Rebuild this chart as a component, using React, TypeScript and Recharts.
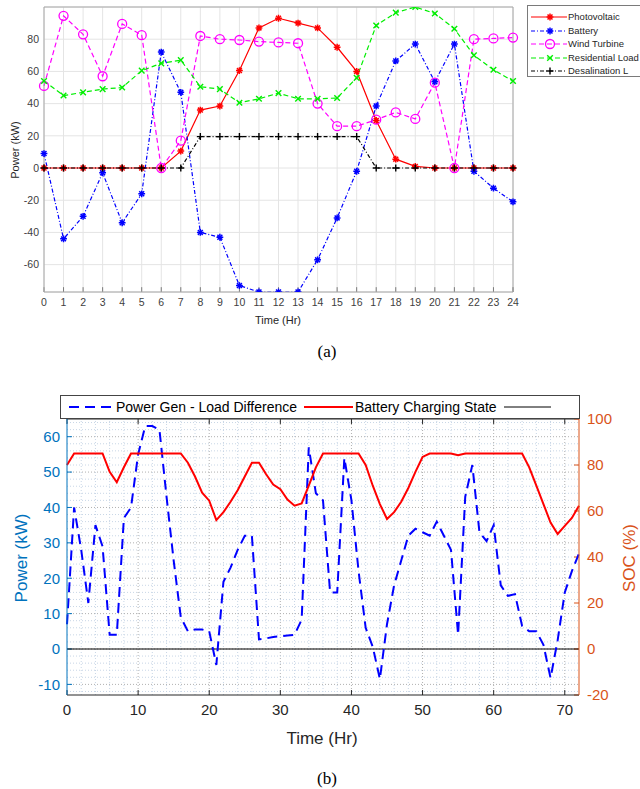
import React from 'react';
import { LineChart, Line, XAxis, YAxis, CartesianGrid, ReferenceLine } from 'recharts';

// ---------- chart (a): daily power profile ----------
const HOURS = [0, 1, 2, 3, 4, 5, 6, 7, 8, 9, 10, 11, 12, 13, 14, 15, 16, 17, 18, 19, 20, 21, 22, 23, 24];
const PV = [0, 0, 0, 0, 0, 0, 0, 10.5, 36, 38.5, 60.5, 87, 93, 90, 87, 75, 60, 29.5, 5.5, 1, 0, 0, 0, 0, 0];
const BATTERY = [9, -44, -30, -3, -34, -16, 72, 47, -40, -43, -73, -77, -77, -77, -57, -31, -2, 38.5, 66.5, 77, 53.5, 77, -2, -12.5, -21];
const WIND = [51, 94.5, 83, 57, 89.5, 82.5, 0, 17, 82, 80, 79.5, 78.5, 78, 77.5, 40, 26, 26, 30, 34.5, 30.5, 53, 0, 80, 80.5, 81];
const RESIDENTIAL = [54, 45, 47, 49, 50, 60.5, 65, 67, 50.5, 49, 40.5, 43, 46.5, 43, 43, 43.5, 56, 88.5, 96.5, 100, 96, 86.5, 70, 61, 54];
const DESAL = [0, 0, 0, 0, 0, 0, 0, 0, 19.5, 19.5, 19.5, 19.5, 19.5, 19.5, 19.5, 19.5, 19.5, 0, 0, 0, 0, 0, 0, 0, 0];
const Y_TICKS_A = [-60, -40, -20, 0, 20, 40, 60, 80];

// ---------- chart (b): 72 h difference and SOC ----------
const DIFF = [
  7, 40, 28, 13, 35, 29, 4, 4, 37, 40, 55, 63, 63, 62, 43, 25, 9, 5, 5.5, 5.5,
  5, -4.5, 19, 23, 28, 32, 32, 2.7, 3, 3.4, 3.6, 3.8, 4, 8.3, 57, 44, 42, 16, 16, 54,
  42, 22, 6, 0.6, -8.5, 7, 18, 25, 32, 34, 33, 32, 36, 32, 28, 4, 43, 52, 33, 30.5,
  35, 18, 15, 15.5, 6.5, 5, 5, 1.2, -8.2, 2.5, 16, 22, 27,
];
const SOC = [
  80, 85, 85, 85, 85, 85, 77, 72.5, 79, 85, 85, 85, 85, 85, 85, 85, 85, 81, 75, 68,
  64.5, 56, 59.5, 64, 69, 75, 81, 81, 76, 71.5, 69.5, 65, 62.3, 63.3, 71, 79, 85, 85, 85, 85,
  85, 85, 80, 71, 63, 56.5, 59.5, 64, 70, 77, 83.5, 85, 85, 85, 85, 84.2, 85, 85, 85, 85,
  85, 85, 85, 85, 85, 79, 71, 63, 55, 50, 53.5, 57, 62.3,
];
const X_TICKS_B = [0, 10, 20, 30, 40, 50, 60, 70];
const Y_TICKS_B = [-10, 0, 10, 20, 30, 40, 50, 60];
const SOC_TICKS = [-20, 0, 20, 40, 60, 80, 100];

const SANS = '"Liberation Sans", Arial, sans-serif';
const SERIF = '"Liberation Serif", "Times New Roman", serif';

const dataA = HOURS.map((h, i) => ({
  hour: h,
  pv: PV[i],
  battery: BATTERY[i],
  wind: WIND[i],
  residential: RESIDENTIAL[i],
  desal: DESAL[i],
}));

const dataB = DIFF.map((d, i) => ({ t: i, diff: d, soc: SOC[i] }));

type MarkerKind = 'star' | 'circle' | 'x' | 'plus';

function Marker({ kind, cx, cy, color }: { kind: MarkerKind; cx: number; cy: number; color: string }) {
  if (kind === 'circle') {
    return <circle cx={cx} cy={cy} r={4.5} fill="none" stroke={color} strokeWidth={1.3} />;
  }
  if (kind === 'x') {
    const r = 2.8;
    return (
      <g stroke={color} strokeWidth={1.4}>
        <line x1={cx - r} y1={cy - r} x2={cx + r} y2={cy + r} />
        <line x1={cx - r} y1={cy + r} x2={cx + r} y2={cy - r} />
      </g>
    );
  }
  if (kind === 'plus') {
    const r = 3.5;
    return (
      <g stroke={color} strokeWidth={1.4}>
        <line x1={cx - r} y1={cy} x2={cx + r} y2={cy} />
        <line x1={cx} y1={cy - r} x2={cx} y2={cy + r} />
      </g>
    );
  }
  const r = 3.4;
  const d = r * 0.72;
  return (
    <g stroke={color} strokeWidth={1.5}>
      <line x1={cx - r} y1={cy} x2={cx + r} y2={cy} />
      <line x1={cx} y1={cy - r} x2={cx} y2={cy + r} />
      <line x1={cx - d} y1={cy - d} x2={cx + d} y2={cy + d} />
      <line x1={cx - d} y1={cy + d} x2={cx + d} y2={cy - d} />
      <circle cx={cx} cy={cy} r={1.6} fill={color} stroke="none" />
    </g>
  );
}

const makeDot = (kind: MarkerKind, color: string) => (props: any) => {
  const { cx, cy, index } = props;
  if (cx == null || cy == null) return <g key={index} />;
  return (
    <g key={index}>
      <Marker kind={kind} cx={cx} cy={cy} color={color} />
    </g>
  );
};

const seriesA = [
  { key: 'pv', name: 'Photovoltaic', color: '#ff0000', dash: undefined, marker: 'star' as MarkerKind },
  { key: 'battery', name: 'Battery', color: '#0000ff', dash: '4 2 1 2', marker: 'star' as MarkerKind },
  { key: 'wind', name: 'Wind Turbine', color: '#ff00ff', dash: '5 3', marker: 'circle' as MarkerKind },
  { key: 'residential', name: 'Residential Load', color: '#00ee00', dash: '5 3', marker: 'x' as MarkerKind },
  { key: 'desal', name: 'Desalination L', color: '#000000', dash: '4 2 1 2', marker: 'plus' as MarkerKind },
];

function Text({ x, y, children, size, color = '#262626', rotate = 0, family = SANS }: any) {
  return (
    <div
      style={{
        position: 'absolute',
        left: x,
        top: y,
        transform: `translate(-50%, -50%) rotate(${rotate}deg)`,
        fontSize: size,
        color,
        fontFamily: family,
        whiteSpace: 'nowrap',
        lineHeight: 1,
      }}
    >
      {children}
    </div>
  );
}

function ChartA() {
  return (
    <>
      <div style={{ position: 'absolute', left: 0, top: 0 }}>
        <LineChart width={640} height={330} data={dataA} margin={{ top: 7, right: 127, bottom: 8, left: 0 }}>
          <CartesianGrid stroke="#e4e4e4" strokeWidth={1} />
          <XAxis
            dataKey="hour"
            type="number"
            domain={[0, 24]}
            ticks={HOURS}
            interval={0}
            height={30}
            tickLine={false}
            tickSize={5}
            tickMargin={2}
            axisLine={{ stroke: '#a8a8a8' }}
            tick={{ fontSize: 10.5, fill: '#404040', fontFamily: SANS }}
          />
          <YAxis
            type="number"
            domain={[-77, 100]}
            ticks={Y_TICKS_A}
            allowDataOverflow
            width={44}
            tickLine={false}
            tickSize={3}
            tickMargin={2}
            axisLine={{ stroke: '#a8a8a8' }}
            tick={{ fontSize: 10.5, fill: '#404040', fontFamily: SANS }}
          />
          <ReferenceLine y={100} stroke="#a8a8a8" />
          <ReferenceLine x={24} stroke="#a8a8a8" />
          {HOURS.map((h) => (
            <ReferenceLine
              key={'ta' + h}
              segment={[{ x: h, y: -77 }, { x: h, y: -74 }]}
              stroke="#7a7a7a"
            />
          ))}
          {seriesA.map((s) => (
            <Line
              key={s.key}
              type="linear"
              dataKey={s.key}
              stroke={s.color}
              strokeWidth={1.2}
              strokeDasharray={s.dash}
              dot={makeDot(s.marker, s.color)}
              activeDot={false}
              isAnimationActive={false}
            />
          ))}
        </LineChart>
      </div>
      <Text x={14.5} y={150} size={11} rotate={-90}>Power (kW)</Text>
      <Text x={278} y={320} size={11}>Time (Hr)</Text>
      <Text x={327} y={351} size={17} family={SERIF} color="#000">(a)</Text>
      <div
        style={{
          position: 'absolute',
          left: 527,
          top: 5,
          width: 125,
          height: 72,
          border: '1px solid #7a7a7a',
          background: '#fff',
          boxSizing: 'border-box',
        }}
      >
        {seriesA.map((s, i) => {
          const cy = 11 + i * 13.5;
          return (
            <React.Fragment key={s.key}>
              <svg style={{ position: 'absolute', left: 2, top: cy - 6 }} width={38} height={12}>
                <line x1={1} y1={6} x2={37} y2={6} stroke={s.color} strokeWidth={1.2} strokeDasharray={s.dash} />
                <Marker kind={s.marker} cx={20} cy={6} color={s.color} />
              </svg>
              <div
                style={{
                  position: 'absolute',
                  left: 40,
                  top: cy - 6,
                  fontSize: 9.5,
                  lineHeight: '12px',
                  fontFamily: SANS,
                  color: '#262626',
                  whiteSpace: 'nowrap',
                }}
              >
                {s.name}
              </div>
            </React.Fragment>
          );
        })}
      </div>
    </>
  );
}

const minorX: number[] = [];
for (let v = 2; v < 72; v += 2) minorX.push(v);
const minorY: number[] = [];
for (let v = -12; v < 65; v += 2) minorY.push(v);

function ChartB() {
  return (
    <>
      <div style={{ position: 'absolute', left: 0, top: 390 }}>
        <LineChart width={640} height={350} data={dataB} margin={{ top: 29, right: 0, bottom: 10, left: 0 }}>
          <XAxis
            dataKey="t"
            type="number"
            domain={[0, 72]}
            ticks={X_TICKS_B}
            interval={0}
            height={35}
            tickLine={false}
            tickSize={6}
            tickMargin={3}
            tickFormatter={(v: number) => (X_TICKS_B.includes(v) ? String(v) : '')}
            axisLine={{ stroke: '#262626' }}
            tick={{ fontSize: 15, fill: '#262626', fontFamily: SANS }}
          />
          <YAxis
            yAxisId="left"
            type="number"
            domain={[-13, 65]}
            ticks={Y_TICKS_B}
            allowDataOverflow
            width={67}
            tickLine={false}
            tickSize={5}
            tickMargin={2}
            axisLine={{ stroke: '#0072bd' }}
            tick={{ fontSize: 15, fill: '#0072bd', fontFamily: SANS }}
          />
          <YAxis
            yAxisId="right"
            orientation="right"
            type="number"
            domain={[-20, 100]}
            ticks={SOC_TICKS}
            allowDataOverflow
            width={61}
            tickLine={false}
            tickSize={5}
            tickMargin={3}
            axisLine={{ stroke: '#d95319' }}
            tick={{ fontSize: 15, fill: '#d95319', fontFamily: SANS }}
          />
          {minorX.map((v) => (
            <ReferenceLine
              key={'gx' + v}
              yAxisId="left"
              x={v}
              stroke={v % 10 === 0 ? '#b0b0b0' : '#c8d6e6'}
              strokeDasharray="1 2"
            />
          ))}
          {minorY.map((v) => (
            <ReferenceLine
              key={'gy' + v}
              yAxisId="left"
              y={v}
              stroke={v % 10 === 0 ? '#b0b0b0' : '#c8d6e6'}
              strokeDasharray="1 2"
            />
          ))}
          <ReferenceLine yAxisId="left" y={65} stroke="#262626" />
          {X_TICKS_B.map((v) => (
            <ReferenceLine
              key={'tb' + v}
              yAxisId="left"
              segment={[{ x: v, y: -13 }, { x: v, y: -11.6 }]}
              stroke="#262626"
            />
          ))}
          {X_TICKS_B.map((v) => (
            <ReferenceLine
              key={'tt' + v}
              yAxisId="left"
              segment={[{ x: v, y: 65 }, { x: v, y: 63.6 }]}
              stroke="#262626"
            />
          ))}
          {Y_TICKS_B.map((v) => (
            <ReferenceLine
              key={'tl' + v}
              yAxisId="left"
              segment={[{ x: 0, y: v }, { x: 0.7, y: v }]}
              stroke="#0072bd"
            />
          ))}
          {SOC_TICKS.map((v) => (
            <ReferenceLine
              key={'tr' + v}
              yAxisId="right"
              segment={[{ x: 71.3, y: v }, { x: 72, y: v }]}
              stroke="#d95319"
            />
          ))}
          <ReferenceLine yAxisId="left" y={0} stroke="#000" strokeWidth={1} />
          <Line
            yAxisId="left"
            type="linear"
            dataKey="diff"
            stroke="#0000ff"
            strokeWidth={2}
            strokeDasharray="10 6"
            dot={false}
            activeDot={false}
            isAnimationActive={false}
          />
          <Line
            yAxisId="right"
            type="linear"
            dataKey="soc"
            stroke="#ff0000"
            strokeWidth={2}
            dot={false}
            activeDot={false}
            isAnimationActive={false}
          />
        </LineChart>
      </div>
      <div
        style={{
          position: 'absolute',
          left: 60,
          top: 395,
          width: 520,
          height: 24,
          border: '1px solid #444',
          background: '#fff',
          boxSizing: 'border-box',
          fontFamily: SANS,
          fontSize: 14,
          color: '#000',
        }}
      >
        <svg style={{ position: 'absolute', left: 0, top: 0 }} width={518} height={22}>
          <line x1={8} y1={11} x2={53} y2={11} stroke="#0000ff" strokeWidth={2} strokeDasharray="10 6" />
          <line x1={243} y1={11} x2={292} y2={11} stroke="#ff0000" strokeWidth={2} />
          <line x1={443} y1={11} x2={490} y2={11} stroke="#000" strokeWidth={1} />
        </svg>
        <div style={{ position: 'absolute', left: 55, top: 3, whiteSpace: 'nowrap', lineHeight: '16px' }}>
          Power Gen - Load Difference
        </div>
        <div style={{ position: 'absolute', left: 294, top: 3, whiteSpace: 'nowrap', lineHeight: '16px' }}>
          Battery Charging State
        </div>
      </div>
      <Text x={21} y={558} size={17} color="#0072bd" rotate={-90}>Power (kW)</Text>
      <Text x={629} y={558} size={17} color="#d95319" rotate={-90}>SOC (%)</Text>
      <Text x={322} y={738} size={17}>Time (Hr)</Text>
      <Text x={327} y={778} size={17} family={SERIF} color="#000">(b)</Text>
    </>
  );
}

export default function App() {
  return (
    <div
      style={{
        position: 'absolute',
        left: 0,
        top: 0,
        width: 640,
        height: 789,
        overflow: 'hidden',
        background: '#fff',
      }}
    >
      <ChartA />
      <ChartB />
    </div>
  );
}
